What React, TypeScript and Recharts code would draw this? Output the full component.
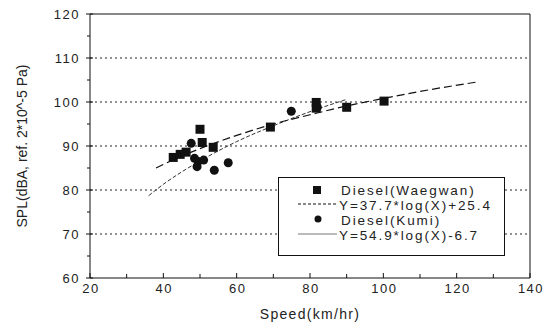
import React from 'react';
import { ComposedChart, Scatter, Line, XAxis, YAxis, ReferenceLine } from 'recharts';

const xTicks = [20, 30, 40, 50, 60, 70, 80, 90, 100, 110, 120, 130, 140];
const yTicks = [60, 65, 70, 75, 80, 85, 90, 95, 100, 105, 110, 115, 120];
const gridValues = [70, 80, 90, 100, 110];

const waegwanSpeed = [42.7, 44.6, 46.2, 50.0, 50.6, 53.6, 69.2, 81.7, 81.7, 90.0, 100.2];
const waegwanSpl = [87.4, 88.1, 88.6, 93.8, 90.8, 89.7, 94.3, 99.9, 98.6, 98.8, 100.2];

const kumiSpeed = [47.6, 48.5, 49.5, 49.2, 51.0, 53.9, 57.7, 74.9, 82.0];
const kumiSpl = [90.6, 87.2, 86.5, 85.3, 86.8, 84.5, 86.2, 97.9, 98.8];

const fitWSpeed = [38, 45, 50, 60, 70, 80, 90, 100, 110, 126];
const fitWSpl = [85.0, 87.7, 89.4, 92.4, 95.0, 97.1, 99.1, 100.8, 102.4, 104.6];

const fitKSpeed = [36, 40, 45, 50, 60, 70, 80, 90];
const fitKSpl = [78.7, 81.3, 84.1, 86.6, 91.0, 94.6, 97.8, 100.6];

const legendLabels = ['Diesel(Waegwan)', 'Y=37.7*log(X)+25.4', 'Diesel(Kumi)', 'Y=54.9*log(X)-6.7'];

const zip = (xs: number[], ys: number[]) => xs.map((x, i) => ({ x, y: ys[i] }));
const waegwanData = zip(waegwanSpeed, waegwanSpl);
const kumiData = zip(kumiSpeed, kumiSpl);
const fitWData = zip(fitWSpeed, fitWSpl);
const fitKData = zip(fitKSpeed, fitKSpl);

const FONT = '"Liberation Sans", Arial, Helvetica, sans-serif';
const INK = '#111';

const XTick = (props: any) => {
  const { x, y, payload } = props;
  const major = payload.value % 20 === 0;
  return (
    <g>
      <line x1={x} x2={x} y1={y} y2={y - (major ? 5 : 4)} stroke={INK} strokeWidth={1} />
      {major && (
        <text x={x + 1} y={y + 15} textAnchor="middle" fontSize={13} letterSpacing={1.5} fill="#222" fontFamily={FONT}>
          {payload.value}
        </text>
      )}
    </g>
  );
};

const YTick = (props: any) => {
  const { x, y, payload } = props;
  const major = payload.value % 10 === 0;
  return (
    <g>
      <line x1={major ? x - 4 : x - 3} x2={major ? x + 3 : x} y1={y} y2={y} stroke={INK} strokeWidth={1} />
      {major && (
        <text x={x - 10} y={y} dy="0.35em" textAnchor="end" fontSize={13} letterSpacing={1.5} fill="#222" fontFamily={FONT}>
          {payload.value}
        </text>
      )}
    </g>
  );
};

const SquareShape = (props: any) => {
  const { cx, cy } = props;
  return <rect x={cx - 4.5} y={cy - 4.5} width={9} height={9} fill={INK} />;
};

const CircleShape = (props: any) => {
  const { cx, cy } = props;
  return <circle cx={cx} cy={cy} r={4.5} fill={INK} />;
};

const LegendBox = () => (
  <div style={{ position: 'absolute', left: 278, top: 177, width: 227, height: 79 }}>
    <svg width={227} height={79} style={{ display: 'block' }}>
      <rect x={0.5} y={0.5} width={226} height={78} fill="#fff" stroke={INK} strokeWidth={1} />
      <rect x={35} y={9} width={8} height={8} fill={INK} />
      <line x1={20} x2={59} y1={27} y2={27} stroke={INK} strokeDasharray="3 2" />
      <circle cx={40} cy={42} r={3.5} fill={INK} />
      <line x1={20} x2={59} y1={57} y2={57} stroke="#777" strokeWidth={1} />
      {legendLabels.map((t, i) => (
        <text
          key={t}
          x={i % 2 === 0 ? 63 : 61}
          y={13 + i * 15}
          dy="0.35em"
          fontSize={13.5}
          letterSpacing={1.9}
          fill="#222"
          fontFamily={FONT}
        >
          {t}
        </text>
      ))}
    </svg>
  </div>
);

export default function App() {
  return (
    <div style={{ position: 'absolute', left: 0, top: 0, width: 543, height: 324, background: '#fff' }}>
      <ComposedChart width={543} height={324} margin={{ top: 14, right: 13, bottom: 0, left: 0 }}>
        <XAxis
          type="number"
          dataKey="x"
          domain={[20, 140]}
          ticks={xTicks}
          interval={0}
          allowDataOverflow
          height={46}
          tickSize={0}
          tickMargin={0}
          tickLine={false}
          tick={<XTick />}
          axisLine={{ stroke: INK, strokeWidth: 1 }}
          label={{ value: 'Speed(km/hr)', position: 'insideBottom', offset: 5, fontSize: 14, letterSpacing: 1.3, fill: '#222', fontFamily: FONT }}
        />
        <YAxis
          type="number"
          dataKey="y"
          domain={[60, 120]}
          ticks={yTicks}
          interval={0}
          allowDataOverflow
          width={90}
          tickSize={0}
          tickMargin={0}
          tickLine={false}
          tick={<YTick />}
          axisLine={{ stroke: INK, strokeWidth: 1 }}
          label={{ value: 'SPL(dBA, ref. 2*10^-5 Pa)', angle: -90, position: 'insideLeft', offset: 22, fontSize: 14, fill: '#222', fontFamily: FONT, style: { textAnchor: 'middle' } }}
        />
        {gridValues.map((v) => (
          <ReferenceLine key={v} y={v} stroke="#222" strokeDasharray="2 3" strokeWidth={1} />
        ))}
        <ReferenceLine y={120} stroke={INK} strokeWidth={1} />
        <ReferenceLine x={140} stroke={INK} strokeWidth={1} />
        <Line
          data={fitKData}
          dataKey="y"
          type="monotone"
          stroke="#333"
          strokeWidth={1}
          strokeDasharray="4 2"
          dot={false}
          activeDot={false}
          isAnimationActive={false}
        />
        <Line
          data={fitWData}
          dataKey="y"
          type="monotone"
          stroke={INK}
          strokeWidth={1.2}
          strokeDasharray="8 4"
          dot={false}
          activeDot={false}
          isAnimationActive={false}
        />
        <Scatter data={kumiData} shape={<CircleShape />} isAnimationActive={false} />
        <Scatter data={waegwanData} shape={<SquareShape />} isAnimationActive={false} />
      </ComposedChart>
      <LegendBox />
    </div>
  );
}
